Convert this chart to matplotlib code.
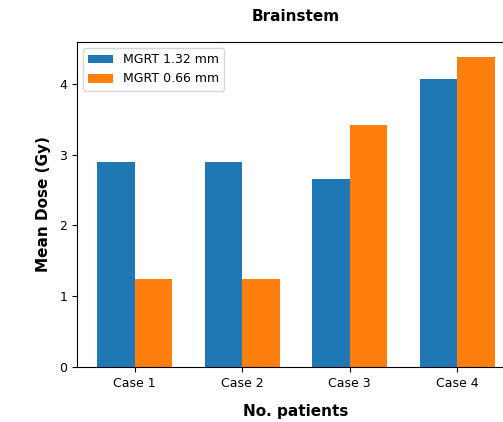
import matplotlib
matplotlib.use("Agg")
import matplotlib.pyplot as plt
import numpy as np

categories = ["Case 1", "Case 2", "Case 3", "Case 4"]
mgrt_132 = [2.90, 2.90, 2.65, 4.07]
mgrt_066 = [1.24, 1.24, 3.41, 4.37]
series_labels = ["MGRT 1.32 mm", "MGRT 0.66 mm"]

W, H = 503, 422
fig = plt.figure(figsize=(W / 100, H / 100), dpi=100)
left, right, bottom, top = 77, 515, 367, 42
ax = fig.add_axes([left / W, (H - bottom) / H, (right - left) / W, (bottom - top) / H])

x = np.arange(len(categories))
w = 0.35
ax.bar(x - w / 2, mgrt_132, w, label=series_labels[0], color="#1f77b4")
ax.bar(x + w / 2, mgrt_066, w, label=series_labels[1], color="#ff7f0e")

ax.set_xticks(x)
ax.set_xticklabels(categories)
ax.tick_params(labelsize=9)
ax.set_yticks([0, 1, 2, 3, 4])

ax.set_title("Brainstem", fontsize=11, fontweight="bold", pad=15)
ax.set_xlabel("No. patients", fontsize=11, fontweight="bold", labelpad=10)
ax.set_ylabel("Mean Dose (Gy)", fontsize=11, fontweight="bold", labelpad=6)
ax.legend(fontsize=9, loc="upper left")

fig.savefig("out.png", dpi=100)
